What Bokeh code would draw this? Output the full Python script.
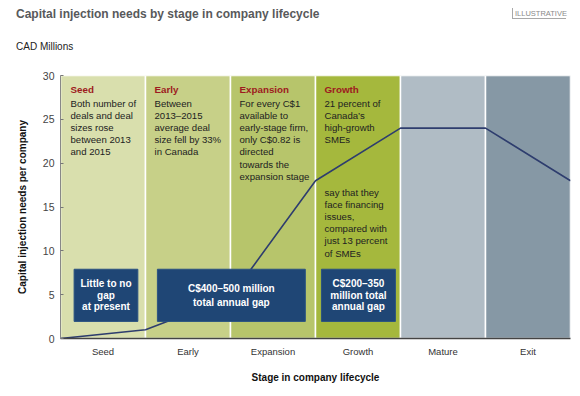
from bokeh.plotting import figure
from bokeh.layouts import column
from bokeh.models import ColumnDataSource, FixedTicker, Label, Range1d, Div
from bokeh.embed import file_html
from bokeh.resources import INLINE

# ---------------- data ----------------
stages = ["Seed", "Early", "Expansion", "Growth", "Mature", "Exit"]
band_colors = ["#d9dfad", "#c7d088", "#b7c56b", "#a5b83d", "#b0bcc5", "#8698a5"]
# capital need at each stage boundary (0 = start of Seed ... 6 = end of Exit)
need_pos = [0, 1, 2, 3, 4, 5, 6]
need_val = [0, 1, 4.7, 18, 24, 24, 18]
y_ticks = [0, 5, 10, 15, 20, 25, 30]

band_titles = ["Seed", "Early", "Expansion", "Growth"]
band_notes = [
    "Both number of\ndeals and deal\nsizes rose\nbetween 2013\nand 2015",
    "Between\n2013\u20132015\naverage deal\nsize fell by 33%\nin Canada",
    "For every C$1\navailable to\nearly-stage firm,\nonly C$0.82 is\ndirected\ntowards the\nexpansion stage",
    "21 percent of\nCanada\u2019s\nhigh-growth\nSMEs",
]
growth_note2 = "say that they\nface financing\nissues,\ncompared with\njust 13 percent\nof SMEs"

gap_text = ["Little to no\ngap\nat present",
            "C$400\u2013500 million\ntotal annual gap",
            "C$200\u2013350\nmillion total\nannual gap"]
gap_left = [0.16, 1.14, 3.07]
gap_right = [0.91, 2.88, 3.94]
gap_bottom = [1.95, 1.95, 1.95]
gap_top = [7.9, 7.9, 7.9]

chart_title = "Capital injection needs by stage in company lifecycle"
unit_text = "CAD Millions"
badge_text = "ILLUSTRATIVE"

FONT = "Liberation Sans"

W = 572
HH = 65          # header height
H = 323          # main chart height
BL, BR, BT, BB = 60, 2, 10, 50
fw = W - BL - BR
fh = H - BT - BB
ymax = y_ticks[-1]
nst = len(stages)

# ---------------- header (titles) ----------------
header_html = (
    f'<div style="position:relative;width:{W}px;height:{HH}px;font-family:\'{FONT}\';">'
    f'<div style="position:absolute;left:16px;top:7px;font-size:12px;line-height:14px;'
    f'font-weight:bold;color:#58595b;white-space:nowrap;">{chart_title}</div>'
    f'<div style="position:absolute;left:16px;top:41px;font-size:10px;line-height:12px;'
    f'color:#222222;white-space:nowrap;">{unit_text}</div>'
    f'<div style="position:absolute;left:512px;top:8px;width:54px;height:11px;'
    f'border-left:1.5px solid #a8a8a8;border-bottom:1.5px solid #a8a8a8;'
    f'padding-left:2px;font-size:7.5px;line-height:11px;color:#8a8a8a;white-space:nowrap;">'
    f'{badge_text}</div>'
    '</div>'
)
hd = Div(text=header_html, width=W, height=HH, margin=0)

# ---------------- main chart ----------------
p = figure(width=W, height=H, output_backend="svg", toolbar_location=None,
           x_range=Range1d(0, nst), y_range=Range1d(0, ymax),
           min_border_left=BL, min_border_right=BR, min_border_top=BT, min_border_bottom=BB)
p.outline_line_color = None
p.grid.visible = False
p.background_fill_color = "white"
p.border_fill_color = "white"

def Y(py):
    # reference page pixel -> data y
    return (HH + H - BB - py) / fh * ymax

band_src = ColumnDataSource(dict(left=[i for i in range(nst)], right=[i + 1 for i in range(nst)],
                                 color=band_colors))
p.quad(left="left", right="right", bottom=0, top=ymax, fill_color="color",
       line_color="white", line_width=1.5, source=band_src)

p.line(need_pos, need_val, line_color="#2e3d6e", line_width=1.6)

p.quad(left=gap_left, right=gap_right, bottom=gap_bottom, top=gap_top,
       fill_color="#1f4675", line_color="#2a5282", line_width=1)

for i, t in enumerate(gap_text):
    p.add_layout(Label(x=(gap_left[i] + gap_right[i]) / 2, y=(gap_bottom[i] + gap_top[i]) / 2,
                       text=t, text_align="center", text_baseline="middle",
                       text_font=FONT, text_font_size="10px", text_font_style="bold",
                       text_color="white", text_line_height=1.22 if i == 1 else 1.03))

for i, t in enumerate(band_titles):
    off = 10 if i == 0 else 9
    p.add_layout(Label(x=i, y=Y(83), x_offset=off, text=t, text_align="left",
                       text_baseline="top", text_font=FONT, text_font_size="9.8px",
                       text_font_style="bold", text_color="#9e1b20"))
    p.add_layout(Label(x=i, y=Y(97.5), x_offset=off, text=band_notes[i],
                       text_align="left", text_baseline="top", text_font=FONT,
                       text_font_size="9.6px", text_color="#222222", text_line_height=1.1))
p.add_layout(Label(x=3, y=Y(186.5), x_offset=9, text=growth_note2, text_align="left",
                   text_baseline="top", text_font=FONT, text_font_size="9.6px",
                   text_color="#222222", text_line_height=1.1))

xa = p.xaxis[0]
xa.ticker = FixedTicker(ticks=[i + 0.5 for i in range(nst)])
xa.major_label_overrides = {i + 0.5: s for i, s in enumerate(stages)}
xa.major_tick_in = 0
xa.major_tick_out = 0
xa.minor_tick_line_color = None
xa.axis_line_color = "#444444"
xa.axis_line_width = 1.5
xa.major_label_text_font = FONT
xa.major_label_text_font_size = "9.5px"
xa.major_label_text_color = "#333333"
xa.major_label_standoff = 7
xa.axis_label = "Stage in company lifecycle"
xa.axis_label_text_font = FONT
xa.axis_label_text_font_size = "10px"
xa.axis_label_text_font_style = "bold"
xa.axis_label_text_color = "#111111"
xa.axis_label_standoff = 12

ya = p.yaxis[0]
ya.ticker = FixedTicker(ticks=y_ticks)
ya.major_tick_in = 3
ya.major_tick_out = 0
ya.major_tick_line_color = "#777777"
ya.minor_tick_line_color = None
ya.axis_line_color = "#888888"
ya.major_label_text_font = FONT
ya.major_label_text_font_size = "10.5px"
ya.major_label_text_color = "#444444"
ya.major_label_standoff = 6
ya.axis_label = "Capital injection needs per company"
ya.axis_label_text_font = FONT
ya.axis_label_text_font_size = "10px"
ya.axis_label_text_font_style = "bold"
ya.axis_label_text_color = "#111111"
ya.axis_label_standoff = 12

layout = column(hd, p, spacing=0)
open("out.html", "w").write(file_html(layout, INLINE))
